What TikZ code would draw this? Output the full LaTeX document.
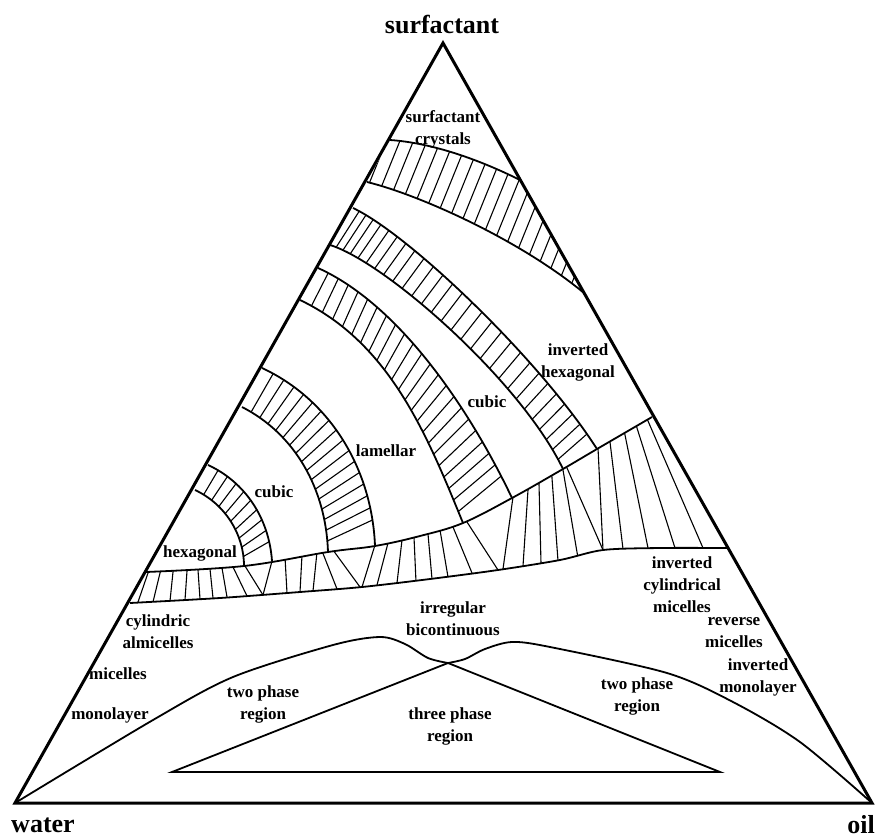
\documentclass[tikz,border=0pt]{standalone}
\usepackage{fontspec}
\setmainfont{Liberation Serif}
\usetikzlibrary{calc}

\tikzset{
  side/.style={line width=3pt, line join=miter},
  phase/.style={line width=1.8pt},
  hatch/.style={line width=1.1pt},
  lbl/.style={font=\fontsize{17}{22}\selectfont\bfseries, align=center, inner sep=0pt},
  corner/.style={font=\fontsize{26}{30}\selectfont\bfseries, inner sep=0pt},
}

% hatch lines across a curved band: #1 outer curve, #2 inner curve, #3 number of lines, #4 lag of the outer end
\newcommand{\hatchband}[4]{%
  \foreach \i in {1,...,#3}{%
    \pgfmathsetmacro{\tin}{\i/(#3+1)}%
    \pgfmathsetmacro{\tout}{\tin*(1-#4)}%
    \path (#1a) .. controls (#1b) and (#1c) .. (#1d) coordinate[pos=\tout] (hout);
    \path (#2a) .. controls (#2b) and (#2c) .. (#2d) coordinate[pos=\tin] (hin);
    \draw[hatch] (hout) -- (hin);
  }}

\begin{document}
\begin{tikzpicture}[x=1pt, y=-1pt]
  \useasboundingbox (0,0) rectangle (878,838);
  \fill[white] (0,0) rectangle (878,838);

  % corners
  \coordinate (S) at (443,43);
  \coordinate (W) at (15,803);
  \coordinate (O) at (872,803);

  % arcs of the liquid crystal bands
  \coordinate (c1a) at (390,140);  \coordinate (c1b) at (433,143);  \coordinate (c1c) at (480,160);  \coordinate (c1d) at (520,180);
  \coordinate (c2a) at (367,182);  \coordinate (c2b) at (420,195);  \coordinate (c2c) at (520,240);  \coordinate (c2d) at (584,293);
  \coordinate (c3a) at (353,208);  \coordinate (c3b) at (410,235);  \coordinate (c3c) at (540,360);  \coordinate (c3d) at (597,449);
  \coordinate (c4a) at (330,245);  \coordinate (c4b) at (385,262);  \coordinate (c4c) at (520,380);  \coordinate (c4d) at (563,469);
  \coordinate (c5a) at (318,268);  \coordinate (c5b) at (400,305);  \coordinate (c5c) at (470,410);  \coordinate (c5d) at (512,498);
  \coordinate (c6a) at (300,300);  \coordinate (c6b) at (390,343);  \coordinate (c6c) at (427,435);  \coordinate (c6d) at (463,523);
  \coordinate (c7a) at (262,368);  \coordinate (c7b) at (331,400);  \coordinate (c7c) at (372,470);  \coordinate (c7d) at (375,546);
  \coordinate (c8a) at (242,407);  \coordinate (c8b) at (295,434);  \coordinate (c8c) at (326,489);  \coordinate (c8d) at (328,552);
  \coordinate (c9a) at (208,465);  \coordinate (c9b) at (245,482);  \coordinate (c9c) at (269,518);  \coordinate (c9d) at (272,561);
  \coordinate (c10a) at (195,490); \coordinate (c10b) at (225,504); \coordinate (c10c) at (244,534); \coordinate (c10d) at (244,566);

  % surfactant crystals band
  \begin{scope}
    \clip (c1a) .. controls (c1b) and (c1c) .. (c1d) -- (c2d) .. controls (c2c) and (c2b) .. (c2a) -- cycle;
    \foreach \x in {322,335.5,...,590} \draw[hatch] (\x,300) -- ++(81,-200);
  \end{scope}

  \foreach \c in {c1,c2,c3,c4,c5,c6,c7,c8,c9,c10}
    \draw[phase] (\c a) .. controls (\c b) and (\c c) .. (\c d);

  \hatchband{c3}{c4}{27}{0.02}
  \hatchband{c5}{c6}{22}{0.04}
  \hatchband{c7}{c8}{16}{0.06}
  \hatchband{c9}{c10}{9}{0.06}

  % lower band
  \begin{scope}
    \clip plot[smooth, tension=0.6] coordinates {(146,572) (c10d) (c8d) (c7d) (420,536) (c6d) (c5d) (c4d) (c3d) (652,417)}
      -- plot[smooth] coordinates {(727,548) (660,548) (603,550) (560,560) (498,570) (430,579) (362,587) (300,592) (220,598) (130,603)} -- cycle;
    \foreach \xb/\yb/\xt/\yt in {138/602/148/573, 153/602/160/573, 170/601/173/572, 185/600/187/571,
        200/599/198/570, 213/598/210/569, 227/597/222/568, 247/596/233/567, 263/595/245/566,
        263/595/272/561, 287/593/285/557, 300/592/302/555, 313/591/317/552, 337/589/322/551,
        360/587/333/550, 362/587/375/545, 377/585/388/543, 397/583/402/540, 416/582/414/537,
        432/579/428/534, 448/577/440/530, 472/573/453/527, 498/570/467/522, 503/569/513/497,
        523/566/528/490, 541/563/539/484, 558/561/552/478, 578/558/563/470, 603/550/567/468,
        603/550/598/448, 623/549/610/442, 648/548/625/435, 675/548/637/428, 703/548/648/421}
      \draw[hatch, shorten <=-10pt, shorten >=-10pt] (\xb,\yb) -- (\xt,\yt);
  \end{scope}
  \draw[phase] plot[smooth, tension=0.6] coordinates {(146,572) (c10d) (c8d) (c7d) (420,536) (c6d) (c5d) (c4d) (c3d) (652,417)};
  \draw[phase] plot[smooth] coordinates {(130,603) (220,598) (300,592) (362,587) (430,579) (498,570) (560,560) (603,550) (660,548) (727,548)};

  % two and three phase regions
  \coordinate (T) at (448,663);
  \draw[phase] plot[smooth] coordinates {(W) (153,720) (233,677) (333,645) (380,637) (405,644) (428,658) (T)};
  \draw[phase] plot[smooth] coordinates {(T) (465,659) (485,649) (512,642) (550,647) (667,673) (733,702) (800,742) (O)};
  \draw[phase, line join=miter] (172,772) -- (T) -- (720,772) -- cycle;

  % triangle
  \draw[side] (W) -- (S) -- (O) -- cycle;

  % labels
  \node[corner] at (442,25) {surfactant};
  \node[corner] at (43,825) {water};
  \node[corner] at (861,825) {oil};

  \node[lbl] at (443,129) {surfactant\\crystals};
  \node[lbl] at (578,362) {inverted\\hexagonal};
  \node[lbl] at (487,402) {cubic};
  \node[lbl] at (386,451) {lamellar};
  \node[lbl] at (274,492) {cubic};
  \node[lbl] at (200,553) {hexagonal};
  \node[lbl] at (453,619) {irregular\\bicontinuous};
  \node[lbl] at (682,585) {inverted\\cylindrical\\micelles};
  \node[lbl] at (734,633) {reverse\\micelles};
  \node[lbl] at (758,677) {inverted\\monolayer};
  \node[lbl] at (637,696) {two phase\\region};
  \node[lbl] at (450,726) {three phase\\region};
  \node[lbl] at (158,632) {cylindric\\almicelles};
  \node[lbl] at (118,674) {micelles};
  \node[lbl] at (110,715) {monolayer};
  \node[lbl] at (263,704) {two phase\\region};
\end{tikzpicture}
\end{document}
